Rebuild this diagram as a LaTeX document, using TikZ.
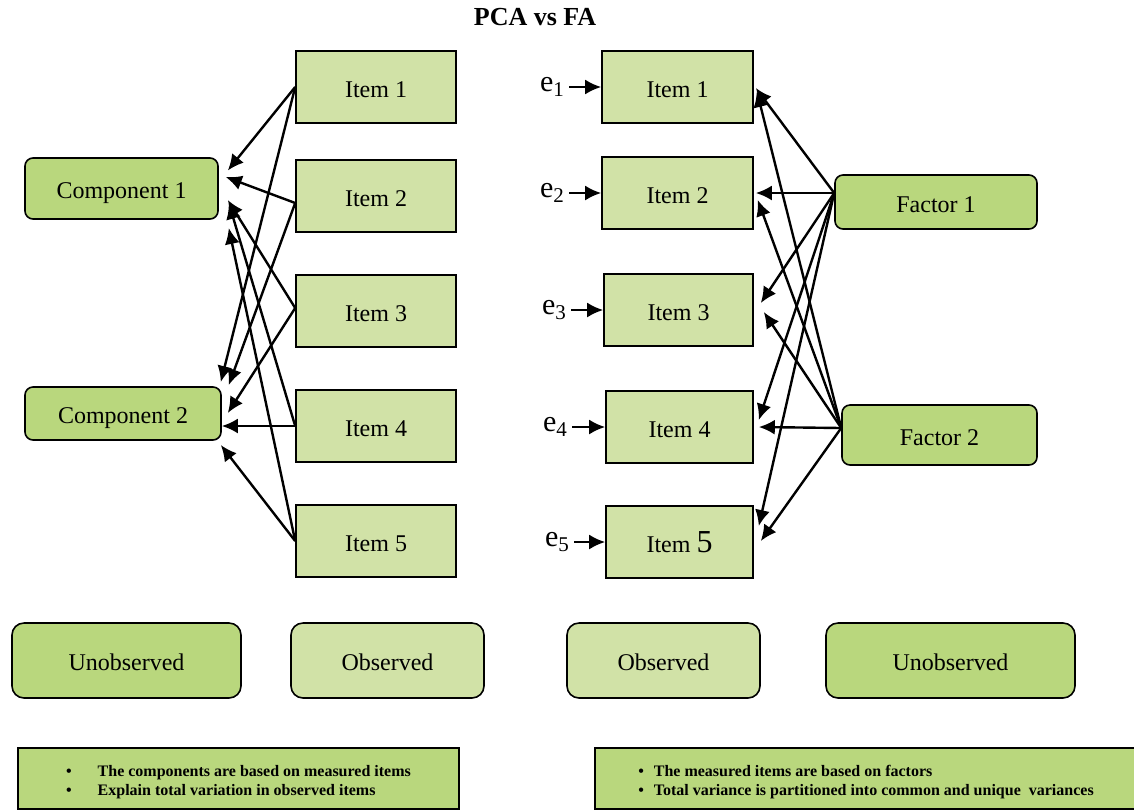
\documentclass[tikz,border=0pt]{standalone}
\usepackage{fontspec}
\setmainfont{Liberation Serif}
\usepackage{tikz}
\usetikzlibrary{shapes,arrows,arrows.meta,positioning}
\definecolor{darkolive}{RGB}{185,215,125}
\definecolor{paleolive}{RGB}{209,226,167}
\tikzstyle{latent}   = [rectangle, draw, fill=darkolive, text centered, rounded corners=4pt, line width=0.8pt, text height=11pt, text depth=1pt]
\tikzstyle{item}     = [rectangle, draw, fill=paleolive, text centered, line width=0.8pt, minimum width=80pt, minimum height=36pt, text height=11pt, text depth=1pt]
\tikzstyle{errlabel} = [font=\fontsize{15}{15}\selectfont, inner sep=2pt]
\tikzstyle{legend}   = [rectangle, draw, text centered, rounded corners=6pt, line width=0.8pt, minimum height=37.5pt, text height=11pt, text depth=1pt]
\tikzstyle{note}     = [rectangle, draw, fill=darkolive, line width=1pt, minimum height=30.5pt, font=\fontsize{8}{9.5}\selectfont\bfseries]
\tikzstyle{line}     = [draw, line width=1.2pt, -{Latex[length=8pt,width=7.5pt]}]

\begin{document}
\begin{tikzpicture}[x=0.5pt, y=-0.5pt, node distance = 57.5pt, font=\fontsize{12}{14.4}\selectfont]
	\useasboundingbox (0,0) rectangle (1134,810);

		% Title %
		\node [font=\fontsize{13}{13}\selectfont\bfseries] (title) at (535,17) {PCA vs FA};

		% PCA =====================================%
		\node [item] (item1) at (376,87) {Item 1};
		\node [item, below of = item1, yshift=3pt] (item2) {Item 2};
		\node [item, below of = item2] (item3) {Item 3};
		\node [item, below of = item3] (item4) {Item 4};
		\node [item, below of = item4] (item5) {Item 5};
		%=========================================%
		\node [latent, minimum width=96.5pt, minimum height=30.5pt] (comp1) at (121.5,188.5) {Component 1};
		\node [latent, minimum width=98pt, minimum height=26.5pt] (comp2) at (123,413.5) {Component 2};

		% FA ======================================%
		\node [item, minimum width=75.5pt] (item1R) at (677.5,87) {Item 1};
		\node [item, minimum width=75.5pt, below of = item1R, yshift=4.5pt] (item2R) {Item 2};
		\node [item, minimum width=74.5pt, below of = item2R, xshift=0.5pt, yshift=-1pt] (item3R) {Item 3};
		\node [item, minimum width=73.5pt, below of = item3R, xshift=0.5pt, yshift=-1pt] (item4R) {Item 4};
		\node [item, minimum width=73.5pt, below of = item4R] (item5R) {Item {\fontsize{16}{16}\selectfont 5}};
		%=========================================%
		\node [errlabel, left of = item1R, xshift=-5pt] (e1) {e\textsubscript{1}};
		\node [errlabel, left of = item2R, xshift=-5pt] (e2) {e\textsubscript{2}};
		\node [errlabel, left of = item3R, xshift=-4.5pt] (e3) {e\textsubscript{3}};
		\node [errlabel, left of = item4R, xshift=-4.5pt] (e4) {e\textsubscript{4}};
		\node [errlabel, left of = item5R, xshift=-3.5pt] (e5) {e\textsubscript{5}};
		%=========================================%
		\node [latent, minimum width=101pt, minimum height=27pt] (fac1) at (936,202) {Factor 1};
		\node [latent, minimum width=97.5pt, minimum height=30pt] (fac2) at (939.5,435) {Factor 2};

		% Legend ==================================%
		\node [legend, fill=darkolive, minimum width=114.5pt] (unobsL) at (126.5,660.5) {Unobserved};
		\node [legend, fill=paleolive, minimum width=96.5pt] (obsL) at (387.5,660.5) {Observed};
		\node [legend, fill=paleolive, minimum width=96.5pt] (obsR) at (663.5,660.5) {Observed};
		\node [legend, fill=darkolive, minimum width=124.5pt] (unobsR) at (950.5,660.5) {Unobserved};

		% Notes ===================================%
		\node [note, minimum width=220.5pt] (noteL) at (238.5,778.5)
			{\begin{tabular}{@{}l@{\hspace{13pt}}l@{}}
			\rule{0pt}{10.6pt}\textbullet & The components are based on measured items\\
			\textbullet & Explain total variation in observed items
			\end{tabular}};
		\node [note, minimum width=271pt] (noteR) at (866,778.5)
			{\begin{tabular}{@{}l@{\hspace{5pt}}l@{}}
			\rule{0pt}{10.6pt}\textbullet & The measured items are based on factors\\
			\textbullet & Total variance is partitioned into common and unique~ variances
			\end{tabular}};

		% Connection %

		\path [line] (item1.west)  -- ([xshift=4.5pt,yshift=9pt]comp1.east);
		\path [line] (item1.west)  -- ([xshift=-0.5pt,yshift=15.75pt]comp2.east);
		\path [line] ([yshift=-3.5pt]item2.west)  -- ([xshift=3.5pt,yshift=5.75pt]comp1.east);
		\path [line] ([yshift=-3.5pt]item2.west)  -- ([xshift=3.5pt,yshift=14.25pt]comp2.east);
		\path [line] ([yshift=1.5pt]item3.west)  -- ([xshift=4.5pt,yshift=-5.75pt]comp1.east);
		\path [line] ([yshift=1.5pt]item3.west)  -- ([xshift=3pt,yshift=0.25pt]comp2.east);
		\path [line] (item4.west)  -- ([xshift=5pt,yshift=-7.25pt]comp1.east);
		\path [line] (item4.west)  -- (item4.west -| comp2.east);
		\path [line] (item5.west)  -- ([xshift=5pt,yshift=-19.75pt]comp1.east);
		\path [line] (item5.west)  -- ([xshift=-0.5pt,yshift=-15.75pt]comp2.east);

		\path [line] (e1.east)  -- (e1.east -| item1R.west);
		\path [line] (e2.east)  -- (e2.east -| item2R.west);
		\path [line] (e3.east)  -- (e3.east -| item3R.west);
		\path [line] (e4.east)  -- (e4.east -| item4R.west);
		\path [line] (e5.east)  -- (e5.east -| item5R.west);

		\path [line] ([yshift=4.5pt]fac1.west)  -- ([xshift=1pt,yshift=-0.5pt]item1R.east);
		\path [line] ([yshift=4.5pt]fac1.west)  -- ([xshift=1pt]item2R.east);
		\path [line] ([yshift=4.5pt]fac1.west)  -- ([xshift=3.5pt,yshift=3.5pt]item3R.east);
		\path [line] ([yshift=4.5pt]fac1.west)  -- ([xshift=2.5pt,yshift=3.5pt]item4R.east);
		\path [line] ([yshift=4.5pt]fac1.west)  -- ([xshift=2.5pt,yshift=8pt]item5R.east);
		\path [line] ([yshift=3.5pt]fac2.west)  -- ([xshift=1.5pt,yshift=-2pt]item1R.east);
		\path [line] ([yshift=3.5pt]fac2.west)  -- ([xshift=2pt,yshift=-3.5pt]item2R.east);
		\path [line] ([yshift=3.5pt]fac2.west)  -- ([xshift=5pt,yshift=-1pt]item3R.east);
		\path [line] ([yshift=3.5pt]fac2.west)  -- ([xshift=2.5pt]item4R.east);
		\path [line] ([yshift=3.5pt]fac2.west)  -- ([xshift=3.5pt,yshift=0.5pt]item5R.east);
	\end{tikzpicture}
\end{document}
